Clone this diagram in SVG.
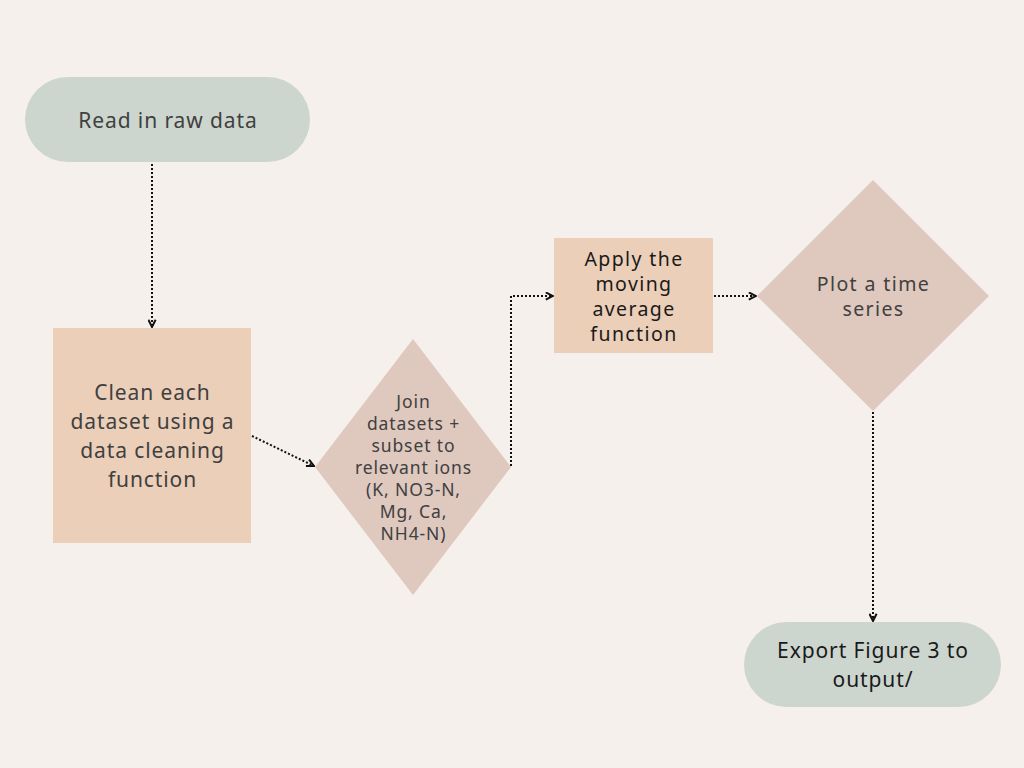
<svg xmlns="http://www.w3.org/2000/svg" width="1024" height="768" viewBox="0 0 1024 768">
<defs>
<style>
.bg{fill:#F5F0EB}
.green{fill:#CDD6CE}
.peach{fill:#ECCFB8}
.rose{fill:#DFC8BE}
.t{font-family:"Noto Sans","Open Sans",sans-serif;text-anchor:middle;dominant-baseline:central;letter-spacing:0.9px}
.wide{letter-spacing:1.4px}
.grey{fill:#404040}
.dark{fill:#1a1a1a}
.conn{fill:none;stroke:#111;stroke-width:2;stroke-dasharray:2,2}
</style>
<marker id="arr" viewBox="0 0 10 10" refX="9" refY="5" markerWidth="4.5" markerHeight="4.5" orient="auto" markerUnits="strokeWidth">
<path d="M1,1 L9,5 L1,9" fill="none" stroke="#111" stroke-width="2.2"/>
</marker>
</defs>
<rect class="bg" x="0" y="0" width="1024" height="768"/>
<g id="connectors">
<path class="conn" d="M152,164 L152,327" marker-end="url(#arr)"/>
<path class="conn" d="M252,436 L314,466" marker-end="url(#arr)"/>
<path class="conn" d="M511,466 L511,296 L553,296" marker-end="url(#arr)"/>
<path class="conn" d="M714,296 L756,296" marker-end="url(#arr)"/>
<path class="conn" d="M873,412 L873,621" marker-end="url(#arr)"/>
</g>
<g id="read">
<rect class="green" x="25" y="77" width="285" height="85" rx="42.5"/>
<text class="t grey" x="168" y="120" font-size="21">Read in raw data</text>
</g>
<g id="clean">
<rect class="peach" x="53" y="328" width="198" height="215"/>
<text class="t grey" font-size="21"><tspan x="152.5" y="392">Clean each</tspan><tspan x="152.5" y="421">dataset using a</tspan><tspan x="152.5" y="450">data cleaning</tspan><tspan x="152.5" y="479">function</tspan></text>
</g>
<g id="join">
<polygon class="rose" points="413,339 511,467 413,595 315,467"/>
<text class="t grey" font-size="17.5"><tspan x="413.5" y="401">Join</tspan><tspan x="413.5" y="423">datasets +</tspan><tspan x="413.5" y="445">subset to</tspan><tspan x="413.5" y="467">relevant ions</tspan><tspan x="413.5" y="489">(K, NO3-N,</tspan><tspan x="413.5" y="511">Mg, Ca,</tspan><tspan x="413.5" y="533">NH4-N)</tspan></text>
</g>
<g id="apply">
<rect class="peach" x="554" y="238" width="159" height="115"/>
<text class="t wide dark" font-size="19.5"><tspan x="634" y="258">Apply the</tspan><tspan x="634" y="283">moving</tspan><tspan x="634" y="308">average</tspan><tspan x="634" y="333">function</tspan></text>
</g>
<g id="plot">
<polygon class="rose" points="873,180 989,296 873,411 757,296"/>
<text class="t wide grey" font-size="19.5"><tspan x="873.5" y="283">Plot a time</tspan><tspan x="873.5" y="308">series</tspan></text>
</g>
<g id="export">
<rect class="green" x="744" y="622" width="257" height="85" rx="42.5"/>
<text class="t dark" font-size="21"><tspan x="873" y="650">Export Figure 3 to</tspan><tspan x="873" y="679">output/</tspan></text>
</g>
</svg>
